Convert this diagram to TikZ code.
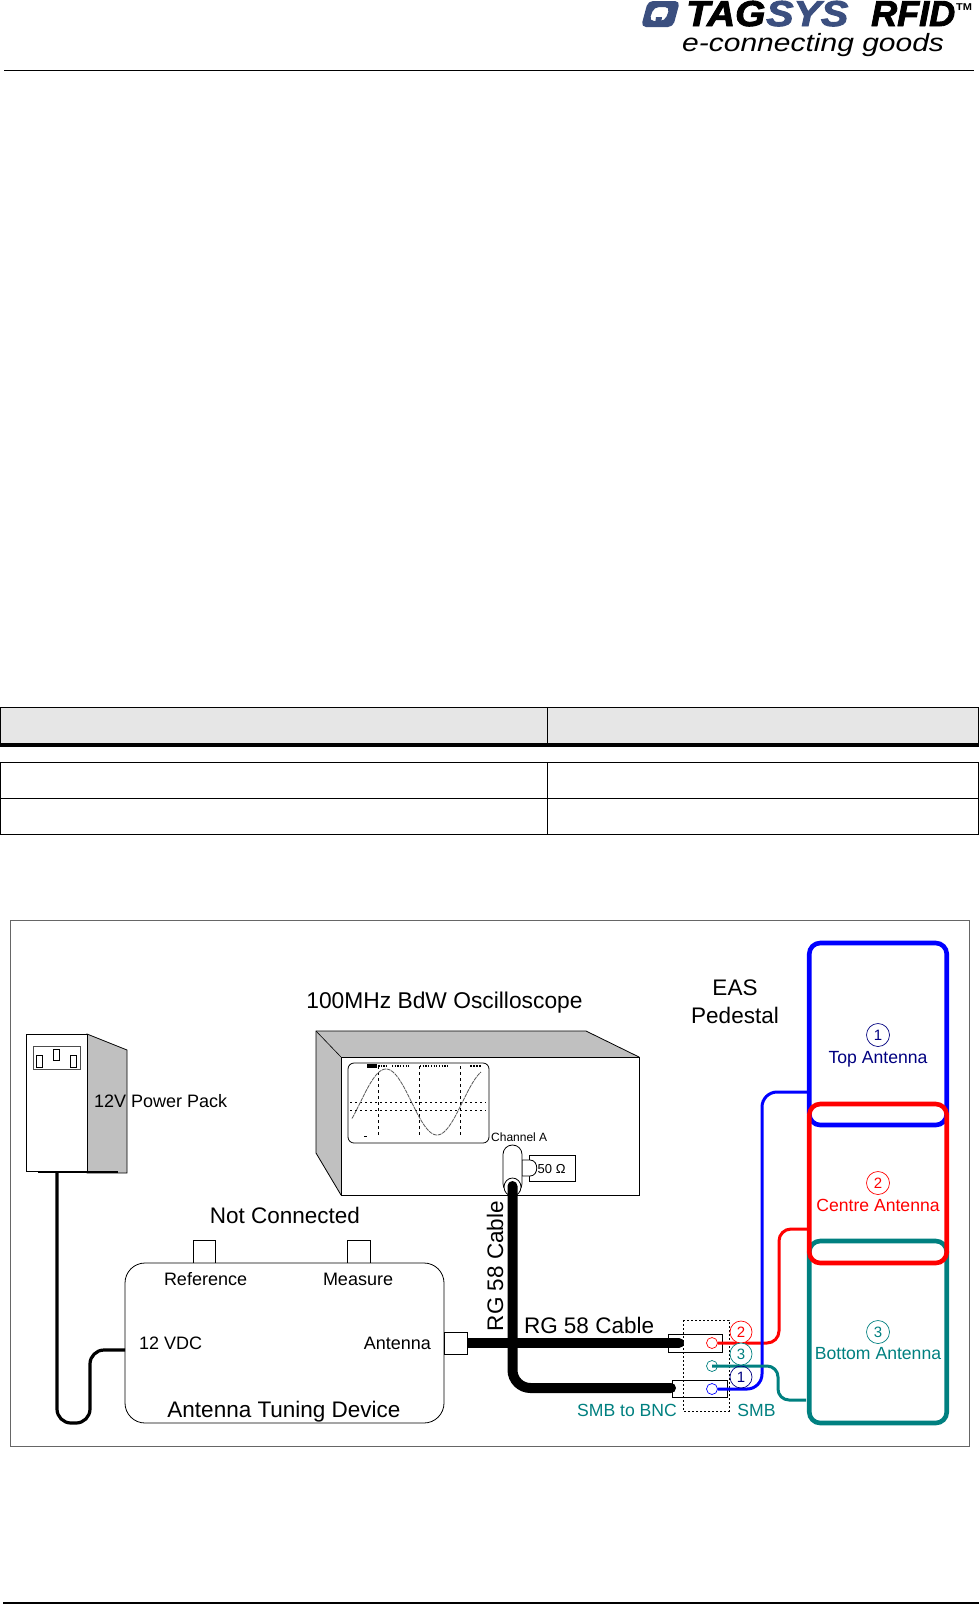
\documentclass[tikz,border=0pt]{standalone}
\usepackage{fontspec}
\setmainfont{Liberation Sans}
\newfontfamily\logofont[BoldItalicFeatures={FakeBold=2.5}]{Liberation Sans}
\usetikzlibrary{shapes.geometric}
\definecolor{teal8}{HTML}{008080}
\definecolor{navy8}{HTML}{000080}
\definecolor{logoblue}{HTML}{3B4F7F}
\definecolor{sidegrey}{HTML}{C0C0C0}
\definecolor{headgrey}{HTML}{E6E6E6}
\newcommand{\fs}[1]{\fontsize{#1}{#1}\selectfont}
\tikzset{
  x=1pt,y=-1pt,
  lbl/.style={inner sep=0,outer sep=0,font=\fs{18}},
  biglbl/.style={inner sep=0,outer sep=0,font=\fs{22.5}},
  antlbl/.style={inner sep=0,outer sep=0,font=\fs{17.6}},
  box/.style={draw=black,line width=0.8,fill=white,inner sep=0,outer sep=0},
  numc/.style={circle,draw=#1,text=#1,fill=white,line width=0.7,minimum size=23,inner sep=0,font=\fs{15}},
  portc/.style={circle,draw=#1,fill=white,line width=0.7,minimum size=11,inner sep=0},
  cable/.style={black,line width=10,line cap=round,rounded corners=18},
  thinc/.style={black,line width=3.2,rounded corners=14},
  wire/.style={draw=#1,line width=3,rounded corners=13},
  antenna/.style={draw=#1,line width=4.6,rounded corners=11,inner sep=0,outer sep=0},
  rule/.style={black,line width=1},
}
\begin{document}
\begin{tikzpicture}
\useasboundingbox (0,0) rectangle (979,1604);
\fill[white] (0,0) rectangle (979,1604);

% header and footer
\fill[logoblue,even odd rule,rounded corners=5] (648,1) -- (680,1) -- (673,27) -- (641,27) -- cycle
   (654,7) -- (670,7) -- (665,21) -- (649,21) -- cycle;
\fill[logoblue] (656,17) -- (662,17) -- (661,24) -- (655,24) -- cycle;
\node[anchor=base west,inner sep=0,font=\fs{36}\logofont\bfseries\itshape] (logotag) at (686,26) {\scalebox{1.08}[1]{TAG}};
\node[anchor=base west,inner sep=0,text=logoblue,font=\fs{36}\logofont\bfseries\itshape] (logosys) at (766,26) {\scalebox{1.14}[1]{SYS}};
\node[anchor=base west,inner sep=0,font=\fs{36}\logofont\bfseries\itshape] (logorfid) at (871,26) {RFID};
\node[anchor=base west,inner sep=0,font=\fs{11}\bfseries] (logotm) at (956,10) {\scalebox{1}[0.9]{TM}};
\node[anchor=base west,inner sep=0,font=\fs{25}\itshape] (logotag2) at (682,51) {\scalebox{1.2}[1]{e-connecting goods}};
\coordinate (hl) at (4,70); \coordinate (hr) at (974,70);
\draw[black,line width=1] (hl) -- (hr);
\coordinate (fl) at (3,1603); \coordinate (fr) at (979,1603);
\draw[black,line width=1.2] (fl) -- (fr);

% table
\fill[headgrey] (1,707) rectangle (979,743);
\draw[rule] (0.6,707) -- (979,707);
\draw[rule] (0.6,707) -- (0.6,745);
\draw[rule] (978.4,707) -- (978.4,745);
\draw[rule] (547,707) -- (547,743);
\fill[black] (0,743) rectangle (979,747);
\draw[rule] (0.6,762) rectangle (978.4,834);
\draw[rule] (0.6,798) -- (978.4,798);
\draw[rule] (547,762) -- (547,834);

% frame
\draw[black!60,line width=1] (10.5,920) rectangle (969,1446);

% power pack
\filldraw[fill=sidegrey,draw=black,line width=0.8] (87,1034) -- (127,1050) -- (127,1173) -- (87,1173) -- cycle;
\node[box,minimum width=61,minimum height=137] (pp) at (56.5,1102.5) {};
\node[box,draw=black!70,minimum width=47,minimum height=23] (sock) at (56.5,1057.5) {};
\node[box,minimum width=6,minimum height=12] (s1) at (39,1061) {};
\node[box,minimum width=6,minimum height=11] (s2) at (56.5,1054.5) {};
\node[box,minimum width=6,minimum height=12] (s3) at (73.5,1061) {};
\draw[black,line width=1.6] (38,1172) -- (118,1172);
\node[lbl,anchor=base west] (pplbl) at (94,1107) {12V Power Pack};

% tuning device
\node[box,minimum width=22,minimum height=23] (ref) at (204,1251.5) {};
\node[box,minimum width=23,minimum height=23] (mea) at (358.5,1251.5) {};
\node[box,rounded corners=20,minimum width=319,minimum height=160] (atd) at (284.5,1343) {};
\node[box,minimum width=23,minimum height=22] (antc) at (455.5,1343) {};
\coordinate (atdin) at (125,1350);
\coordinate (ppout) at (57,1171);
\draw[thinc] (ppout) -- (57,1423) -- (90,1423) -- (90,1350) -- (atdin);
\node[biglbl,anchor=base] (nc) at (285,1223) {Not Connected};
\node[lbl,anchor=base west] at (164,1285) {Reference};
\node[lbl,anchor=base west] at (323,1285) {Measure};
\node[lbl,anchor=base west] at (139,1349) {12 VDC};
\node[lbl,anchor=base east] at (431,1349) {Antenna};
\node[biglbl,anchor=base] at (284,1417) {Antenna Tuning Device};

% oscilloscope
\filldraw[fill=sidegrey,draw=black,line width=0.8] (316,1031) -- (586,1031) -- (639,1057) -- (639,1195) -- (341,1195) -- (316,1153) -- cycle;
\draw[black,line width=0.6] (316,1031) -- (341,1057);
\node[box,minimum width=298,minimum height=138] (scope) at (490,1126) {};
\node[box,rounded corners=6,minimum width=141,minimum height=80] (screen) at (418.5,1103) {};
\foreach \vx in {378,419,460}{\draw[black,line width=0.8,dash pattern=on 3pt off 3pt] (\vx,1066) -- (\vx,1136);}
\foreach \hy in {1102,1110}{\draw[black,line width=0.8,dash pattern=on 2pt off 3pt] (350,\hy) -- (486,\hy);}
\draw[black!65,line width=0.8,dash pattern=on 4pt off 0.8pt,domain=352:481,samples=70,smooth] plot (\x,{1102-33*cos((\x-386)/51*180)});
\fill[black] (367,1064) rectangle (377,1068);
\draw[black,line width=2,dash pattern=on 1.5pt off 1pt] (378,1066) -- (387,1066);
\draw[black,line width=2,dash pattern=on 1.2pt off 1.5pt] (392,1066) -- (410,1066);
\draw[black,line width=2,dash pattern=on 1.2pt off 1.5pt] (420,1066) -- (449,1066);
\draw[black,line width=2,dash pattern=on 1.5pt off 1.5pt] (470,1066) -- (482,1066);
\draw[black,line width=1] (364,1136) -- (367,1136);
\node[inner sep=0,anchor=base west,font=\fs{12}] (cha) at (491,1141) {Channel A};
\node[box,minimum width=46,minimum height=26] (fifty) at (552,1168) {};
\node[inner sep=0,anchor=base west,font=\fs{13}] at (537.5,1173) {50 Ω};
\filldraw[fill=white,draw=black,line width=0.8] (522,1160) -- (530,1160) .. controls (539,1160) and (539,1176) .. (530,1176) -- (522,1176) -- cycle;
\node[box,rounded corners=9.4,minimum width=19,minimum height=48] (tee) at (512.5,1169) {};
\node[ellipse,draw=black,fill=white,line width=0.8,minimum width=17,minimum height=18,inner sep=0] (teeh) at (512.5,1187) {};
\node[inner sep=0,anchor=base,font=\fs{22.8}] at (444.5,1008) {100MHz BdW Oscilloscope};

% text along cables
\node[biglbl,anchor=base west,rotate=90] (rgv) at (503,1331) {RG 58 Cable};
\node[biglbl,anchor=base west] (rgh) at (524,1333) {RG 58 Cable};
\node[biglbl,anchor=base] at (735,995) {EAS};
\node[biglbl,anchor=base] at (735,1023) {Pedestal};

% antennas
\node[antenna=blue,minimum width=137.5,minimum height=182] (ant1) at (878,1034) {};
\node[antenna=teal8,minimum width=137.5,minimum height=182] (ant3) at (878,1332) {};
\node[antenna=red,minimum width=137.5,minimum height=159] (ant2) at (878,1183.5) {};
\node[numc=navy8] (n1t) at (878,1035) {1};
\node[antlbl,anchor=base,text=navy8] at (878,1063) {Top Antenna};
\node[numc=red] (n2t) at (878,1183) {2};
\node[antlbl,anchor=base,text=red] at (878,1211) {Centre Antenna};
\node[numc=teal8] (n3t) at (878,1332) {3};
\node[antlbl,anchor=base,text=teal8] at (878,1359) {Bottom Antenna};

% cables and connectors
\node[box,minimum width=54,minimum height=18] (c2) at (695,1343) {};
\node[box,minimum width=55,minimum height=17] (c1) at (699.5,1388.5) {};
\coordinate (c2e) at (679,1343);
\coordinate (c1e) at (671,1388);
\coordinate (csrc) at (512.5,1186);
\draw[black,line width=10] (antc.east) -- (c2e);
\draw[cable] (csrc) -- (512.5,1388) -- (c1e);
\draw[black,line width=10,line cap=round] (670,1343) -- (c2e);
\draw[black,line width=0.9,dash pattern=on 2pt off 2pt] (683,1320) rectangle (729,1411);

\node[portc=red] (p2) at (712,1343) {};
\node[portc=blue] (p1) at (712,1389) {};
\node[portc=teal8] (p3) at (712,1366) {};

\coordinate (b1) at (807,1092);
\coordinate (r1) at (807,1229);
\coordinate (t1) at (806,1400);
\draw[wire=red,rounded corners=12] (p2.east) -- (779,1343) -- (779,1229) -- (r1);
\draw[wire=blue,rounded corners=15] (p1.east) -- (762,1389) -- (762,1092) -- (b1);
\draw[wire=teal8,rounded corners=11] (p3.center) -- (778,1366) -- (778,1400) -- (t1);
\node[numc=red,minimum size=22] (n2) at (741,1332) {2};
\node[numc=teal8,minimum size=22] (n3) at (741,1354) {3};
\node[numc=navy8,minimum size=22,fill=none] (n1) at (741,1377) {1};
\node[antlbl,anchor=base,text=teal8] at (756.5,1416) {SMB};
\node[antlbl,anchor=base,text=teal8] at (627,1416) {SMB to BNC};
\end{tikzpicture}
\end{document}
